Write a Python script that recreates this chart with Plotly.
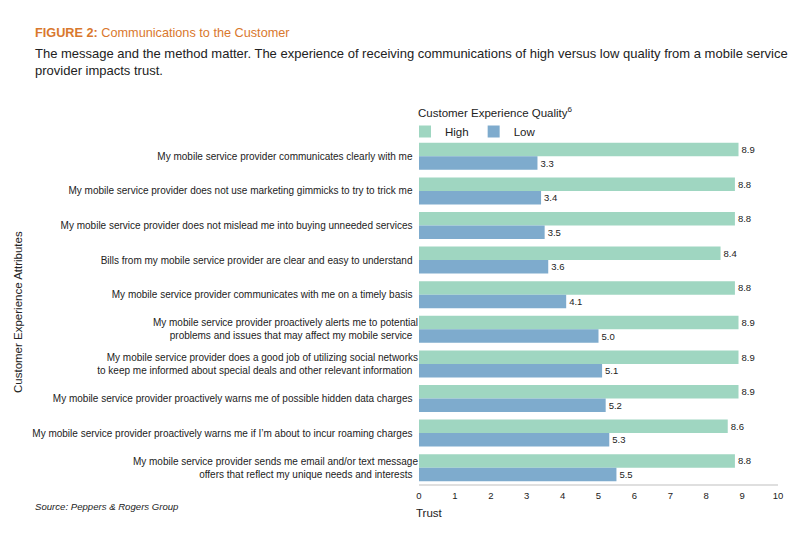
import plotly.graph_objects as go

categories = [
    "My mobile service provider communicates clearly with me",
    "My mobile service provider does not use marketing gimmicks to try to trick me",
    "My mobile service provider does not mislead me into buying unneeded services",
    "Bills from my mobile service provider are clear and easy to understand",
    "My mobile service provider communicates with me on a timely basis",
    "My mobile service provider proactively alerts me to potential<br>problems and issues that may affect my mobile service",
    "My mobile service provider does a good job of utilizing social networks<br>to keep me informed about special deals and other relevant information",
    "My mobile service provider proactively warns me of possible hidden data charges",
    "My mobile service provider proactively warns me if I\u2019m about to incur roaming charges",
    "My mobile service provider sends me email and/or text message<br>offers that reflect my unique needs and interests",
]
high = [8.9, 8.8, 8.8, 8.4, 8.8, 8.9, 8.9, 8.9, 8.6, 8.8]
low = [3.3, 3.4, 3.5, 3.6, 4.1, 5.0, 5.1, 5.2, 5.3, 5.5]
x_ticks = [0, 1, 2, 3, 4, 5, 6, 7, 8, 9, 10]

FONT = "Liberation Sans, Arial, sans-serif"
OFF = 8  # page body margin offset
# plot area in screen pixels: x 419..778, y 139..485
L = 419 - OFF
R = 800 - (778 - OFF)
T = 139 - OFF
B = 544 - (485 - OFF)
PW = 800 - L - R
PH = 544 - T - B


def px_x(x):
    return (x - OFF - L) / PW


def px_y(y):
    return (544 - B - (y - OFF)) / PH


fig = go.Figure()
fig.add_trace(go.Bar(
    y=categories, x=high, name="High", orientation="h",
    marker=dict(color="#9fd6c1", line=dict(width=0)),
    text=[f"{v:.1f}" for v in high], textposition="outside",
    textfont=dict(size=9.5, color="#222"), cliponaxis=False,
))
fig.add_trace(go.Bar(
    y=categories, x=low, name="Low", orientation="h",
    marker=dict(color="#7eabcd", line=dict(width=0)),
    text=[f"{v:.1f}" for v in low], textposition="outside",
    textfont=dict(size=9.5, color="#222"), cliponaxis=False,
))

fig.update_layout(
    width=800, height=544,
    paper_bgcolor="white", plot_bgcolor="white",
    margin=dict(l=L, r=R, t=T, b=B, autoexpand=False),
    barmode="group", bargap=0.22, bargroupgap=0.0,
    font=dict(family=FONT, size=10, color="#222"),
    showlegend=True,
    legend=dict(
        orientation="h", x=px_x(405), xanchor="left", y=px_y(117), yanchor="top",
        font=dict(size=11.5, color="#222"), bgcolor="rgba(0,0,0,0)",
        itemwidth=30, tracegroupgap=0,
    ),
    xaxis=dict(
        range=[0, 10], tickvals=x_ticks, ticktext=[str(t) for t in x_ticks],
        showgrid=False, zeroline=False, showline=False, automargin=False,
        tickfont=dict(size=9.5, color="#222"), ticks="", ticklabelstandoff=3,
    ),
    yaxis=dict(
        autorange="reversed", showgrid=False, zeroline=False, automargin=False,
        ticks="", showline=False,
        tickfont=dict(size=10, color="#222"), ticksuffix="  ",
    ),
    shapes=[dict(type="line", xref="x", yref="paper", x0=0, x1=10, y0=0, y1=0,
                 line=dict(color="#d5d5d5", width=1.5))],
    annotations=[
        dict(text="<b>FIGURE 2:</b> Communications to the Customer",
             xref="paper", yref="paper", x=px_x(33), y=px_y(33), xanchor="left",
             yanchor="middle", showarrow=False,
             font=dict(size=12.7, color="#d9782d")),
        dict(text="The message and the method matter. The experience of receiving communications of high versus low quality from a mobile service<br>provider impacts trust.",
             xref="paper", yref="paper", x=px_x(33), y=px_y(62), xanchor="left",
             yanchor="middle", showarrow=False, align="left",
             font=dict(size=13, color="#222")),
        dict(text="Customer Experience Quality<sup>6</sup>",
             xref="paper", yref="paper", x=px_x(416), y=px_y(112), xanchor="left",
             yanchor="middle", showarrow=False,
             font=dict(size=11.5, color="#222")),
        dict(text="<i>Source: Peppers & Rogers Group</i>",
             xref="paper", yref="paper", x=px_x(33), y=px_y(506), xanchor="left",
             yanchor="middle", showarrow=False,
             font=dict(size=9.6, color="#222")),
        dict(text="Trust",
             xref="paper", yref="paper", x=px_x(414), y=px_y(513), xanchor="left",
             yanchor="middle", showarrow=False,
             font=dict(size=11.5, color="#222")),
        dict(text="Customer Experience Attributes", textangle=-90,
             xref="paper", yref="paper", x=px_x(18), y=px_y(312), xanchor="center",
             yanchor="middle", showarrow=False,
             font=dict(size=11.5, color="#222")),
    ],
)

fig.write_html("out.html")
